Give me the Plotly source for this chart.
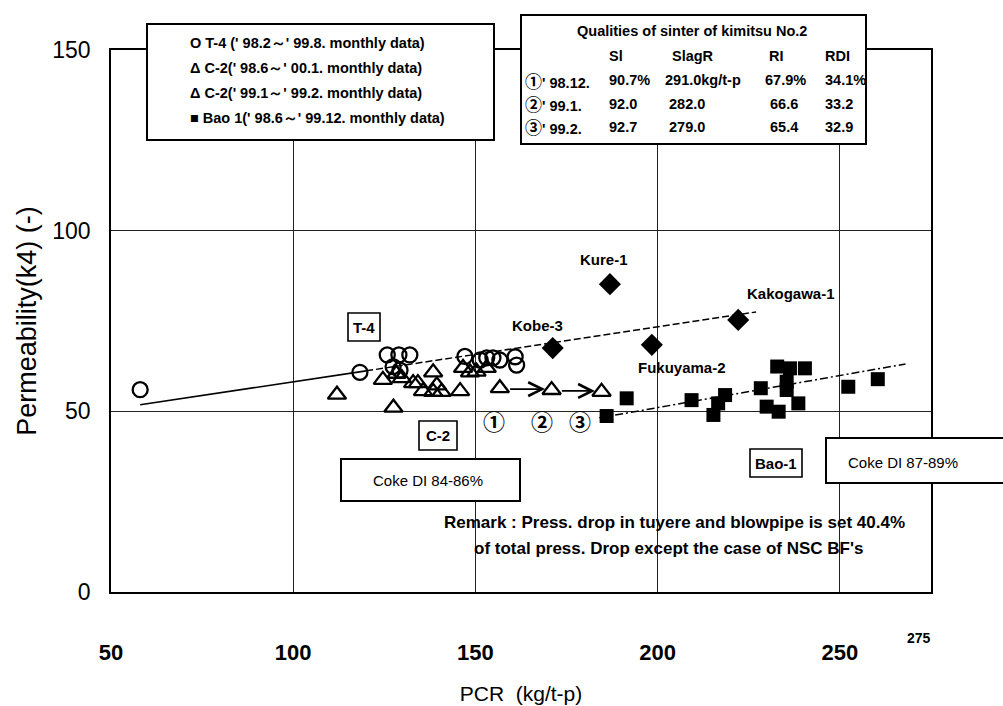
import plotly.graph_objects as go

# ---------------- data ----------------
# T-4 ('98.2 - '99.8, monthly)
t4_x = [58.0, 118.3, 125.8, 129.0, 132.0, 127.4, 129.3, 147.1, 151.3, 153.1, 154.8, 156.7, 160.9, 161.3]
t4_y = [56.0, 60.8, 65.6, 65.6, 65.6, 62.4, 61.4, 65.2, 64.2, 64.8, 64.8, 64.2, 65.1, 62.8]

# C-2 ('98.6 - '00.1, monthly)
c2_x = [112.0, 124.6, 127.5, 128.3, 129.8, 132.9, 134.2, 135.6, 138.4, 139.4, 140.7,
        138.4, 145.8, 146.6, 148.5, 150.3, 153.1]
c2_y = [54.6, 58.7, 51.0, 60.4, 59.2, 57.8, 57.8, 55.6, 60.8, 57.2, 55.4,
        55.4, 55.6, 62.0, 60.8, 61.0, 62.0]

# C-2 ('98.12 -> '99.1 -> '99.2)
c2b_x = [156.7, 170.9, 184.6]
c2b_y = [56.4, 55.9, 55.4]

# Bao 1 ('98.6 - '99.12, monthly)
bao_x = [186.0, 191.5, 209.3, 215.3, 216.6, 218.5, 228.3, 229.9, 232.8, 233.2, 235.4,
         235.4, 236.3, 238.6, 240.4, 252.3, 260.4]
bao_y = [48.7, 53.6, 53.1, 49.0, 52.2, 54.5, 56.4, 51.3, 62.4, 49.9, 58.2,
         55.9, 61.9, 52.2, 61.9, 56.8, 58.9]

# other blast furnaces
other_names = ["Kobe-3", "Kure-1", "Fukuyama-2", "Kakogawa-1"]
other_x = [171.2, 186.9, 198.4, 222.1]
other_y = [67.5, 85.2, 68.4, 75.3]

# trend lines
t4_fit_x = [58.0, 120.0, 227.0]
t4_fit_y = [51.8, 61.2, 77.5]
bao_fit_x = [184.0, 268.0]
bao_fit_y = [48.2, 63.1]

x_ticks = [50, 100, 150, 200, 250]
y_ticks = [0, 50, 100, 150]

# sinter quality table
tbl_marks = ["\u2460", "\u2461", "\u2462"]
tbl_months = ["' 98.12.", "' 99.1.", "' 99.2."]
tbl_si = ["90.7%", "92.0", "92.7"]
tbl_slag = ["291.0kg/t-p", "282.0", "279.0"]
tbl_ri = ["67.9%", "66.6", "65.4"]
tbl_rdi = ["34.1%", "33.2", "32.9"]

legend_lines = [
    "O T-4 (' 98.2\uff5e' 99.8. monthly data)",
    "\u0394 C-2(' 98.6\uff5e' 00.1. monthly data)",
    "\u0394 C-2(' 99.1\uff5e' 99.2. monthly data)",
    "\u25a0 Bao 1(' 98.6\uff5e' 99.12. monthly data)",
]

# ---------------- layout helpers ----------------
L, R, T, B = 111, 931, 50, 592
W_FIG, H_FIG = 1003, 706


def px(x):
    return (x - L) / (R - L)


def py(y):
    return (B - y) / (B - T)


SANS = "Liberation Sans, Arial, sans-serif"
CJK = "Noto Sans CJK JP, DejaVu Sans, sans-serif"

fig = go.Figure()

# trend lines
fig.add_trace(go.Scatter(x=t4_fit_x[:2], y=t4_fit_y[:2], mode="lines",
                         line=dict(color="black", width=1.6), hoverinfo="skip"))
fig.add_trace(go.Scatter(x=t4_fit_x[1:], y=t4_fit_y[1:], mode="lines",
                         line=dict(color="black", width=1.5, dash="7px,3px"), hoverinfo="skip"))
fig.add_trace(go.Scatter(x=bao_fit_x, y=bao_fit_y, mode="lines",
                         line=dict(color="black", width=1.5, dash="8px,3px,2px,3px"), hoverinfo="skip"))

# markers
fig.add_trace(go.Scatter(x=t4_x, y=t4_y, mode="markers", name="T-4",
                         marker=dict(symbol="circle-open", size=15, color="black",
                                     line=dict(width=2.3, color="black"))))
fig.add_trace(go.Scatter(x=c2_x, y=c2_y, mode="markers", name="C-2",
                         marker=dict(symbol="triangle-up-open", size=16, color="black",
                                     line=dict(width=2.3, color="black"))))
fig.add_trace(go.Scatter(x=c2b_x, y=c2b_y, mode="markers", name="C-2b",
                         marker=dict(symbol="triangle-up-open", size=16, color="black",
                                     line=dict(width=2.3, color="black"))))
fig.add_trace(go.Scatter(x=bao_x, y=bao_y, mode="markers", name="Bao 1",
                         marker=dict(symbol="square", size=14, color="black")))
fig.add_trace(go.Scatter(x=other_x, y=other_y, mode="markers", name="others",
                         marker=dict(symbol="diamond", size=17, color="black")))

annotations = []

# arrows between the C-2 monthly points
for i in range(len(c2b_x) - 1):
    annotations.append(dict(
        x=c2b_x[i + 1] - 1.8, y=(c2b_y[i] + c2b_y[i + 1]) / 2,
        ax=c2b_x[i] + 2.4, ay=(c2b_y[i] + c2b_y[i + 1]) / 2,
        xref="x", yref="y", axref="x", ayref="y", text="", showarrow=True,
        arrowhead=5, arrowsize=1.6, arrowwidth=1.7, arrowcolor="black"))

# circled month numbers
for lab, xv in zip(tbl_marks, [155.0, 168.3, 178.7]):
    annotations.append(dict(x=xv, y=47.6, xref="x", yref="y", text=f"<b>{lab}</b>",
                            showarrow=False,
                            font=dict(family=CJK, size=22, color="black")))

# blast furnace names
name_shift = [(-15, 23), (-6, 25), (30, -23), (53, 26)]
for nm, xv, yv, (dx, dy) in zip(other_names, other_x, other_y, name_shift):
    annotations.append(dict(x=xv, y=yv, xref="x", yref="y", text=f"<b>{nm}</b>",
                            showarrow=False, xshift=dx, yshift=dy,
                            font=dict(family=SANS, size=15, color="black")))

shapes = []


def box(x0, y0, x1, y1, w=1.6):
    shapes.append(dict(type="rect", xref="paper", yref="paper",
                       x0=px(x0), x1=px(x1), y0=py(y1), y1=py(y0),
                       line=dict(color="black", width=w), fillcolor="white", layer="above"))


def label(xp, yp, text, size, family=SANS, anchor="center", bold=True):
    t = f"<b>{text}</b>" if bold else text
    annotations.append(dict(x=px(xp), y=py(yp), xref="paper", yref="paper", text=t,
                            showarrow=False, xanchor=anchor, yanchor="middle",
                            font=dict(family=family, size=size, color="black")))


# legend box
box(147, 24, 494, 140, 2)
for i, line in enumerate(legend_lines):
    label(188, 43 + 25 * i, line, 14.5, anchor="left")

# sinter quality table
box(521, 15, 866, 144, 2)
label(692, 31, "Qualities of sinter of kimitsu No.2", 14.5)
for txt, xx in zip(["Sl", "SlagR", "RI", "RDI"], [607, 670, 767, 823]):
    label(xx, 56, txt, 14.5, anchor="left")
for i in range(3):
    yy = 80 + 23.5 * i
    row = (f"<span style='font-family:Noto Sans CJK JP;font-size:17px'>{tbl_marks[i]}</span>"
           f"{tbl_months[i]}")
    label(523, yy, row, 14.5, anchor="left")
    label(607, yy, tbl_si[i], 14.5, anchor="left")
    label(663 if i == 0 else 667, yy, tbl_slag[i], 14.5, anchor="left")
    label(763 if i == 0 else 768, yy, tbl_ri[i], 14.5, anchor="left")
    label(823, yy, tbl_rdi[i], 14.5, anchor="left")

# small name boxes
box(348, 313, 380, 341, 1.6)
label(364, 327, "T-4", 15)
box(419, 421, 457, 450, 1.6)
label(438, 435.5, "C-2", 15)
box(750, 449, 802, 477, 1.6)
label(776, 463, "Bao-1", 15)

# coke DI boxes
box(341, 459, 520, 501, 2)
label(428, 480, "Coke DI 84-86%", 15, bold=False)
box(826, 438, 1012, 483, 2)
label(846, 462, "Coke DI 87-89%", 15, anchor="left", bold=False)

# remark
label(674, 522, "Remark : Press. drop in tuyere and blowpipe is set 40.4%", 17)
label(668, 548, "of total press. Drop except the case of NSC BF's", 17)

# extra end tick label on the x axis
annotations.append(dict(x=275, y=py(638), xref="x", yref="paper", text="<b>275</b>",
                        showarrow=False, xshift=-12, yanchor="middle",
                        font=dict(family=SANS, size=14, color="black")))

fig.update_layout(
    width=W_FIG, height=H_FIG,
    margin=dict(l=L, r=W_FIG - R, t=T, b=H_FIG - B, pad=0),
    paper_bgcolor="white", plot_bgcolor="white",
    showlegend=False,
    shapes=shapes, annotations=annotations,
    xaxis=dict(range=[50, 275], tickvals=x_ticks, ticktext=[f"<b>{v}</b>" for v in x_ticks],
               showgrid=True, gridcolor="#222", gridwidth=1, zeroline=False,
               showline=True, linecolor="black", linewidth=1.8, mirror=True,
               ticks="", ticklabelstandoff=40, automargin=False,
               tickfont=dict(family=SANS, size=22, color="black"),
               title=dict(text="PCR  (kg/t-p)", standoff=22,
                          font=dict(family=SANS, size=21, color="black"))),
    yaxis=dict(range=[0, 150], tickvals=y_ticks,
               showgrid=True, gridcolor="#222", gridwidth=1, zeroline=False,
               showline=True, linecolor="black", linewidth=1.8, mirror=True,
               ticks="", ticklabelstandoff=14, automargin=False,
               tickfont=dict(family=SANS, size=23, color="black"),
               title=dict(text="Permeability(k4) (-)", standoff=8,
                          font=dict(family=SANS, size=27, color="black"))),
)

fig.write_html("out.html")
